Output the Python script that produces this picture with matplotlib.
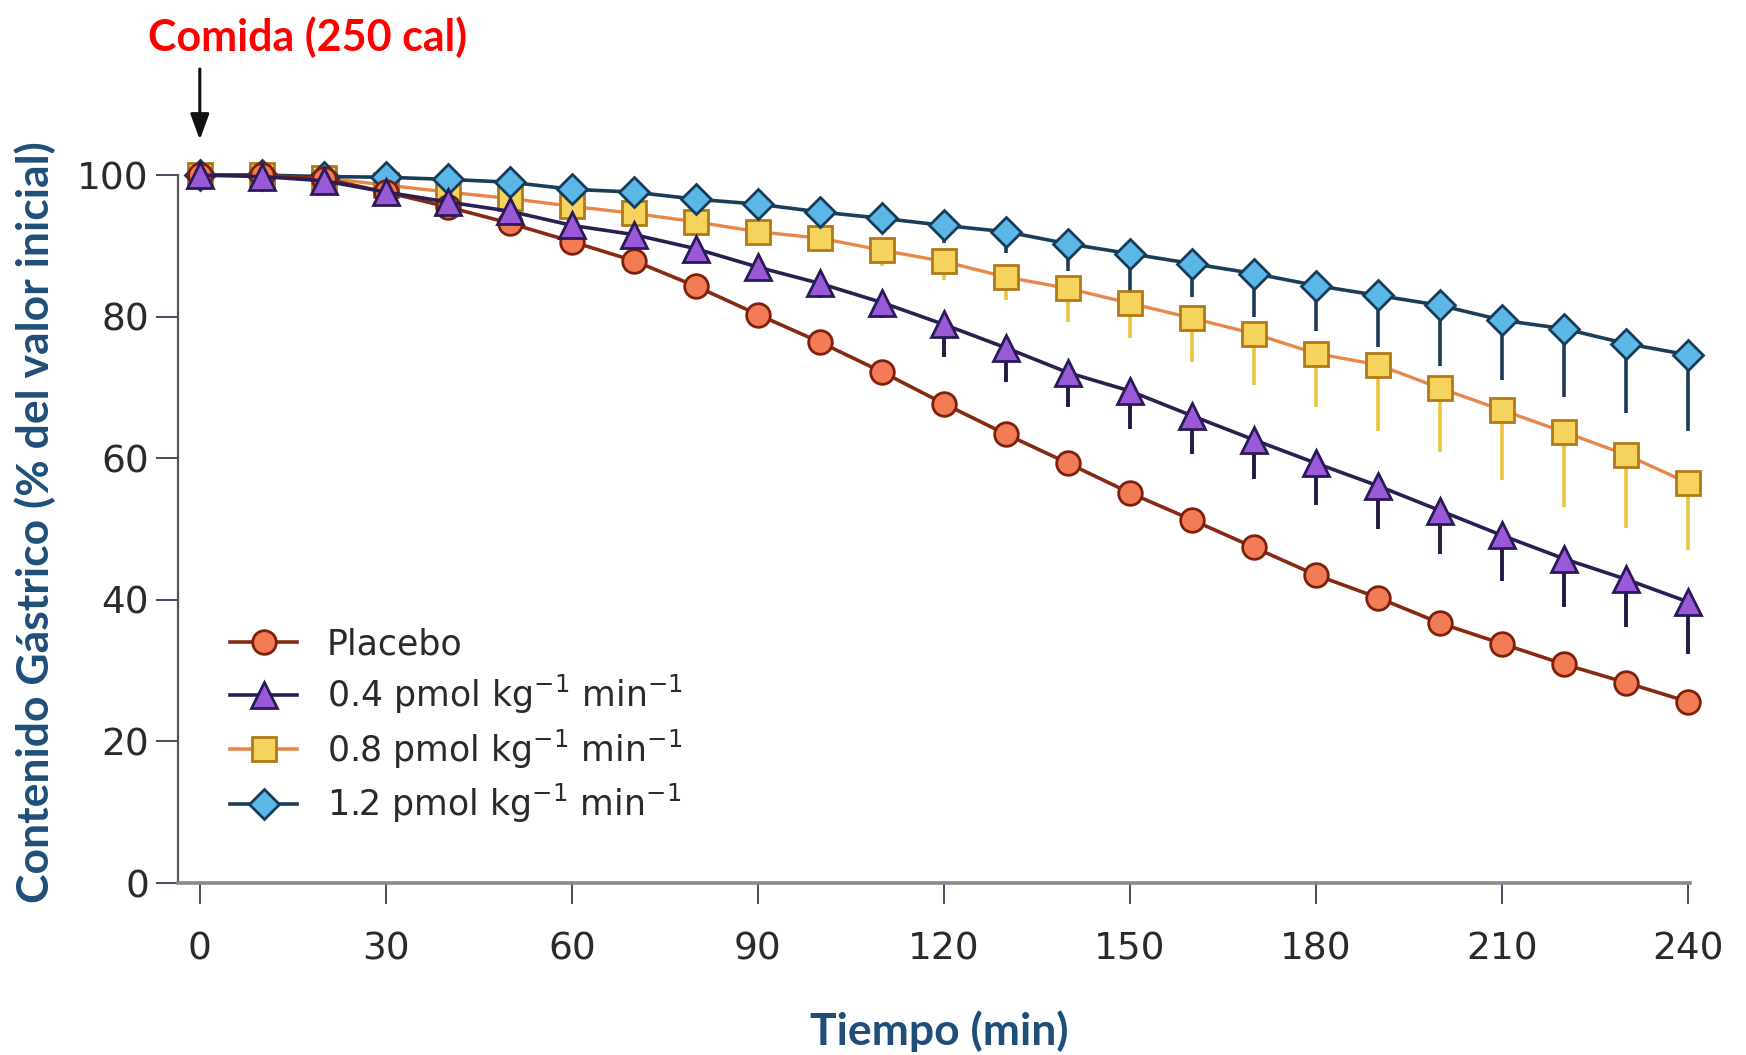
import matplotlib
matplotlib.use("Agg")
import matplotlib.pyplot as plt
from matplotlib.lines import Line2D

# Gastric content (% of initial value) sampled every 10 minutes
time_min = [0, 10, 20, 30, 40, 50, 60, 70, 80, 90, 100, 110, 120,
            130, 140, 150, 160, 170, 180, 190, 200, 210, 220, 230, 240]

placebo = [100, 100, 99.5, 97.6, 95.5, 93.2, 90.6, 87.9, 84.3, 80.3, 76.4, 72.2, 67.7,
           63.4, 59.3, 55.1, 51.3, 47.4, 43.5, 40.3, 36.7, 33.8, 30.9, 28.3, 25.6]

dose_04 = [100, 99.8, 99.2, 97.6, 96.2, 94.9, 92.9, 91.6, 89.6, 87.0, 84.7, 82.0, 78.9,
           75.6, 72.1, 69.5, 66.0, 62.6, 59.3, 56.1, 52.6, 49.1, 45.8, 42.9, 39.7]
err_04 = [0, 0, 0, 0.5, 0.8, 1.0, 1.2, 1.4, 1.6, 1.8, 2.0, 2.2, 4.6,
          4.8, 4.8, 5.4, 5.4, 5.5, 5.9, 6.1, 6.1, 6.4, 6.8, 6.8, 7.3]

dose_08 = [100, 100, 99.6, 98.6, 97.6, 96.7, 95.6, 94.6, 93.4, 92.0, 91.1, 89.4, 87.8,
           85.6, 84.0, 81.9, 79.8, 77.6, 74.8, 73.2, 69.9, 66.8, 63.7, 60.5, 56.5]
err_08 = [0, 0, 0, 0.3, 0.5, 0.7, 0.9, 1.1, 1.3, 1.5, 1.8, 2.2, 2.6,
          3.3, 4.7, 4.9, 6.2, 7.3, 7.5, 9.4, 9.0, 9.9, 10.6, 10.4, 9.4]

dose_12 = [100, 100, 99.8, 99.7, 99.4, 99.0, 98.0, 97.6, 96.6, 95.9, 94.8, 93.9, 92.9,
           92.0, 90.3, 88.9, 87.5, 86.1, 84.4, 83.0, 81.6, 79.5, 78.3, 76.2, 74.6]
err_12 = [0, 0, 0, 0, 0.2, 0.4, 0.6, 0.8, 1.0, 1.3, 1.6, 2.0, 2.5,
          3.0, 3.8, 5.2, 4.7, 6.1, 6.4, 7.3, 8.5, 8.5, 9.7, 9.8, 10.8]

series_labels = ["Placebo",
                 r"0.4 pmol kg$^{-1}$ min$^{-1}$",
                 r"0.8 pmol kg$^{-1}$ min$^{-1}$",
                 r"1.2 pmol kg$^{-1}$ min$^{-1}$"]
x_ticks = [0, 30, 60, 90, 120, 150, 180, 210, 240]
y_ticks = [0, 20, 40, 60, 80, 100]

title_text = "Comida (250 cal)"
x_label = "Tiempo (min)"
y_label = "Contenido Gástrico (% del valor inicial)"

plt.rcParams["font.family"] = ["DejaVu Sans"]
plt.rcParams["mathtext.default"] = "regular"

label_font = ["Lato", "DejaVu Sans"]
label_color = "#1F4E79"

fig = plt.figure(figsize=(17.46, 10.55), dpi=100)
ax = fig.add_axes([0.102, 0.163, 0.866, 0.671])

styles = {
    "placebo": dict(marker="o", ms=17, mfc="#F27C56", mec="#7E1F0A", color="#862A12"),
    "d04": dict(marker="^", ms=19, mfc="#9A5AD8", mec="#2A1A58", color="#2A1F52"),
    "d08": dict(marker="s", ms=17, mfc="#F6D35C", mec="#B07A18", color="#E8874A"),
    "d12": dict(marker="D", ms=15.5, mfc="#5BB7E6", mec="#163C5A", color="#1B3D57"),
}
err_colors = {"d04": "#261845", "d08": "#EAC43C", "d12": "#1C3A55"}

zeros = [0] * len(time_min)

# downward-only error bars
ax.errorbar(time_min, dose_12, yerr=[err_12, zeros], fmt="none",
            ecolor=err_colors["d12"], elinewidth=2.6, capsize=0, zorder=2, clip_on=False)
ax.errorbar(time_min, dose_08, yerr=[err_08, zeros], fmt="none",
            ecolor=err_colors["d08"], elinewidth=2.6, capsize=0, zorder=3, clip_on=False)
ax.plot(time_min, dose_08, lw=2.4, mew=2, zorder=4, clip_on=False, **styles["d08"])
ax.plot(time_min, dose_12, lw=2.6, mew=2, zorder=5, clip_on=False, **styles["d12"])
ax.plot(time_min, placebo, lw=2.6, mew=2, zorder=6, clip_on=False, **styles["placebo"])
ax.errorbar(time_min, dose_04, yerr=[err_04, zeros], fmt="none",
            ecolor=err_colors["d04"], elinewidth=2.8, capsize=0, zorder=7, clip_on=False)
ax.plot(time_min, dose_04, lw=2.6, mew=2, zorder=8, clip_on=False, **styles["d04"])

ax.set_xlim(-3.5, 240.3)
ax.set_ylim(0, 100)
ax.set_xticks(x_ticks)
ax.set_yticks(y_ticks)

for side in ("top", "right"):
    ax.spines[side].set_visible(False)
ax.spines["left"].set_color("#555555")
ax.spines["left"].set_linewidth(1.6)
ax.spines["bottom"].set_color("#8A8A8A")
ax.spines["bottom"].set_linewidth(2.6)

ax.tick_params(axis="x", direction="out", length=15, width=1.3, color="#3A3A55",
               pad=20, labelsize=27, labelcolor="#2A2A2A")
ax.tick_params(axis="y", direction="out", length=16, width=1.3, color="#3A3A55",
               pad=5, labelsize=27, labelcolor="#2A2A2A")

# legend
handles = [Line2D([], [], lw=2.6, mew=2, **styles[k]) for k in ("placebo", "d04", "d08", "d12")]
ax.legend(handles, series_labels, loc="upper left", bbox_to_anchor=(0.025, 0.381),
          frameon=False, fontsize=25, handlelength=1.95, handletextpad=0.85,
          labelspacing=0.33, borderaxespad=0, labelcolor="#2A2A2A")

# meal marker arrow
ax.annotate("", xy=(0, 105.0), xytext=(0, 115.0),
            arrowprops=dict(arrowstyle="-|>,head_length=0.6,head_width=0.22",
                            color="#111111", lw=2.2, mutation_scale=26,
                            shrinkA=0, shrinkB=0),
            annotation_clip=False)

fig.text(0.176, 0.965, title_text, color="#FF0000", fontsize=31, fontweight="bold",
         family=label_font, ha="center", va="center")
fig.text(0.538, 0.023, x_label, color=label_color, fontsize=32, fontweight="bold",
         family=label_font, ha="center", va="center")
fig.text(0.020, 0.505, y_label, color=label_color, fontsize=32, fontweight="bold",
         family=label_font, ha="center", va="center", rotation=90)

fig.savefig("out.png", dpi=100, facecolor="white")
